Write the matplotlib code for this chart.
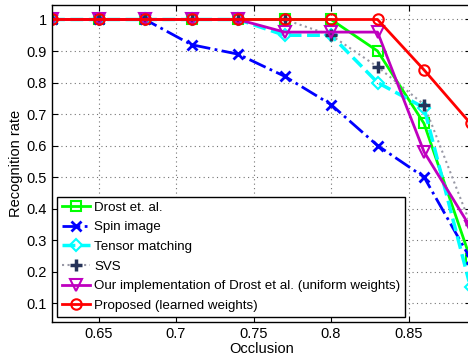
import matplotlib.pyplot as plt

plt.rcParams['font.family'] = ['Liberation Sans', 'DejaVu Sans']

occlusion = [0.62, 0.65, 0.68, 0.71, 0.74, 0.77, 0.80, 0.83, 0.86, 0.89]

drost = [1.0, 1.0, 1.0, 1.0, 1.0, 1.0, 1.0, 0.90, 0.67, 0.24]
spin = [1.0, 1.0, 1.0, 0.92, 0.89, 0.82, 0.73, 0.60, 0.50, 0.24]
tensor = [1.0, 1.0, 1.0, 1.0, 1.0, 0.95, 0.95, 0.80, 0.72, 0.15]
svs = [1.0, 1.0, 1.0, 1.0, 1.0, 1.0, 0.95, 0.85, 0.73, 0.35]
ours_uniform = [1.0, 1.0, 1.0, 1.0, 1.0, 0.96, 0.96, 0.96, 0.58, 0.34]
proposed = [1.0, 1.0, 1.0, 1.0, 1.0, 1.0, 1.0, 1.0, 0.84, 0.67]

labels = ['Drost et. al.', 'Spin image', 'Tensor matching', 'SVS',
          'Our implementation of Drost et al. (uniform weights)',
          'Proposed (learned weights)']

fig = plt.figure(figsize=(4.68, 3.58), dpi=100)
ax = fig.add_axes([52 / 468, 1 - 322 / 358, 419 / 468, 317 / 358])

ax.plot(occlusion, drost, color=(0, 1, 0), lw=2, marker='s', ms=6.5,
        mfc='none', mew=1.5, label=labels[0])
ax.plot(occlusion, spin, color=(0, 0, 1), lw=2, ls='-.', marker='x', ms=6.5,
        mew=2, label=labels[1])
ax.plot(occlusion, tensor, color=(0, 1, 1), lw=2.5, ls='--', marker='D', ms=6.5,
        mfc='none', mew=1.5, label=labels[2])
ax.plot(occlusion, svs, color=(0.6, 0.6, 0.65), lw=1.5, ls=':', marker='+',
        ms=8, mew=2.5, mec=(0.15, 0.2, 0.35), label=labels[3])
ax.plot(occlusion, ours_uniform, color=(0.75, 0, 0.75), lw=2, marker='v',
        ms=8.5, mfc='none', mew=1.5, label=labels[4])
ax.plot(occlusion, proposed, color=(1, 0, 0), lw=2, marker='o', ms=7.5,
        mfc='none', mew=1.5, label=labels[5])

ax.set_xlim(0.62, 0.8903)
ax.set_ylim(0.04, 1.046)
ax.set_xticks([0.65, 0.7, 0.75, 0.8, 0.85])
ax.set_xticklabels(['0.65', '0.7', '0.75', '0.8', '0.85'])
ax.set_yticks([0.1, 0.2, 0.3, 0.4, 0.5, 0.6, 0.7, 0.8, 0.9, 1.0])
ax.set_yticklabels(['0.1', '0.2', '0.3', '0.4', '0.5', '0.6', '0.7', '0.8', '0.9', '1'])
ax.tick_params(direction='in', length=4, labelsize=10.5, top=True, right=True, width=0.8)
ax.grid(True, ls=(0, (1, 3)), color=(0.45, 0.45, 0.45), lw=0.8)
for s in ax.spines.values():
    s.set_linewidth(1.0)

ax.set_xlabel('Occlusion', fontsize=10.5, labelpad=1)
ax.set_ylabel('Recognition rate', fontsize=10.5, labelpad=3)

leg = ax.legend(loc='lower left', bbox_to_anchor=(0.0, 0.0), fontsize=9.6,
                handlelength=2.1, handletextpad=0.3, borderpad=0.35,
                labelspacing=0.55, fancybox=False, edgecolor='black',
                framealpha=1, borderaxespad=0.4)
leg.get_frame().set_linewidth(1.0)

fig.savefig('out.png', dpi=100)
